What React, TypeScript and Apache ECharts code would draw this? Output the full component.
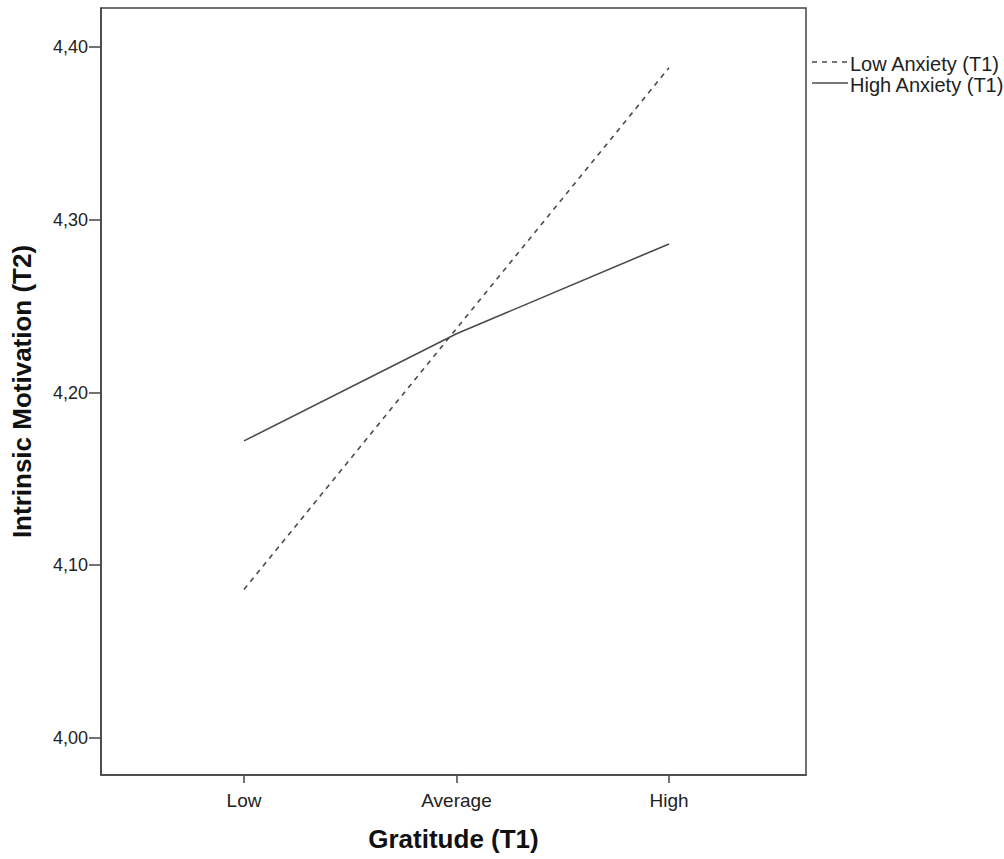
import React, { useEffect, useRef } from "react";
import * as echarts from "echarts";

const categories = ["Low", "Average", "High"];
const yTicks = [4.0, 4.1, 4.2, 4.3, 4.4];
const seriesNames = ["Low Anxiety (T1)", "High Anxiety (T1)"];
const lowAnxiety = [4.086, 4.237, 4.388];
const highAnxiety = [4.172, 4.234, 4.286];

export default function App() {
  const ref = useRef<HTMLDivElement>(null);
  useEffect(() => {
    if (!ref.current) return;
    const chart = echarts.init(ref.current, null, { renderer: "svg" });
    const idx = categories.map((_, i) => i);
    const lineColor = "#4a4a4a";
    const font = "'Liberation Sans', Arial, sans-serif";
    chart.setOption({
      animation: false,
      backgroundColor: "#ffffff",
      grid: {
        left: 101,
        right: 198,
        top: 8,
        bottom: 84,
        show: true,
        borderColor: "#444",
        borderWidth: 1.5,
        backgroundColor: "transparent",
      },
      xAxis: {
        type: "value",
        min: -0.6729,
        max: 2.6447,
        name: "Gratitude (T1)",
        nameLocation: "middle",
        nameGap: 51,
        nameTextStyle: { fontFamily: font, fontWeight: "bold", fontSize: 26, color: "#111" },
        axisLine: { show: true, onZero: false, lineStyle: { color: "#444", width: 1.5 } },
        axisTick: { show: true, customValues: idx, length: 8, inside: false, lineStyle: { color: "#444", width: 1.5 } },
        axisLabel: {
          customValues: idx,
          formatter: (v: number) => categories[Math.round(v)] ?? "",
          fontFamily: font,
          fontSize: 19,
          color: "#222",
          margin: 16,
        },
        splitLine: { show: false },
      },
      yAxis: {
        type: "value",
        min: 3.97858,
        max: 4.42258,
        name: "Intrinsic Motivation (T2)",
        nameLocation: "middle",
        nameGap: 66,
        nameTextStyle: { fontFamily: font, fontWeight: "bold", fontSize: 26, color: "#111" },
        axisLine: { show: true, onZero: false, lineStyle: { color: "#444", width: 1.5 } },
        axisTick: { show: true, customValues: yTicks, length: 12, lineStyle: { color: "#444", width: 1.5 } },
        axisLabel: {
          customValues: yTicks,
          formatter: (v: number) => v.toFixed(2).replace(".", ","),
          fontFamily: font,
          fontSize: 18,
          color: "#222",
          margin: 13,
        },
        splitLine: { show: false },
      },
      series: [
        {
          name: seriesNames[0],
          type: "line",
          data: lowAnxiety.map((v, i) => [i, v]),
          showSymbol: false,
          symbol: "none",
          lineStyle: { color: lineColor, width: 1.6, type: [5, 5] },
        },
        {
          name: seriesNames[1],
          type: "line",
          data: highAnxiety.map((v, i) => [i, v]),
          showSymbol: false,
          symbol: "none",
          lineStyle: { color: lineColor, width: 1.6, type: "solid" },
        },
      ],
      graphic: [
        {
          type: "line",
          shape: { x1: 812, y1: 62, x2: 848, y2: 62 },
          style: { stroke: lineColor, lineWidth: 1.6, lineDash: [5, 5] },
        },
        {
          type: "text",
          x: 850,
          y: 64,
          style: { text: seriesNames[0], fontFamily: font, fontSize: 20, fill: "#222", verticalAlign: "middle" },
        },
        {
          type: "line",
          shape: { x1: 812, y1: 83, x2: 848, y2: 83 },
          style: { stroke: lineColor, lineWidth: 1.6 },
        },
        {
          type: "text",
          x: 850,
          y: 85,
          style: { text: seriesNames[1], fontFamily: font, fontSize: 20, fill: "#222", verticalAlign: "middle" },
        },
      ],
    });
    return () => chart.dispose();
  }, []);
  return <div ref={ref} style={{ width: 1004, height: 859, position: "absolute", left: 0, top: 0 }} />;
}
